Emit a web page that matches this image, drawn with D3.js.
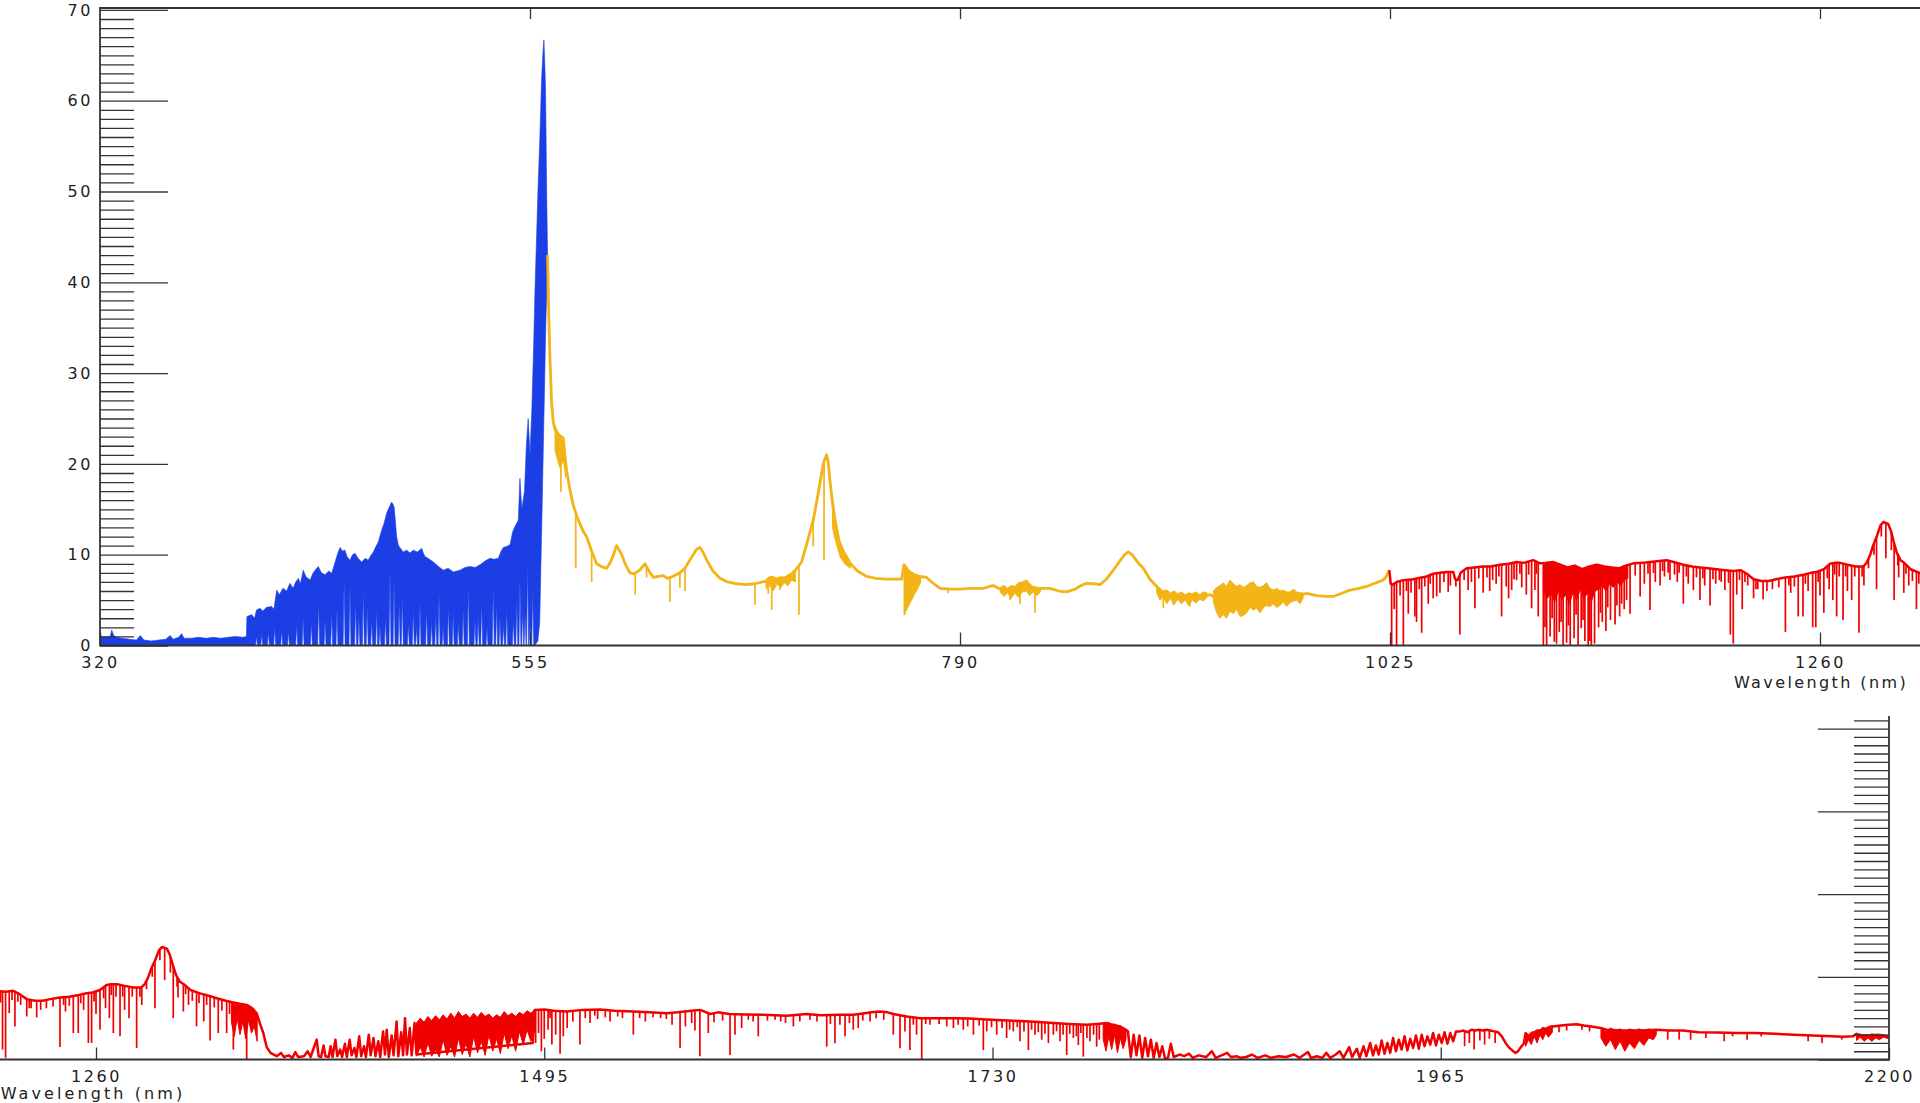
<!DOCTYPE html>
<html><head><meta charset="utf-8">
<script src="https://cdn.jsdelivr.net/npm/d3@7"></script>
<style>
html,body{margin:0;padding:0;background:#fff;}
svg{display:block;}
text{font-family:"DejaVu Sans",sans-serif;font-size:16px;fill:#222;}
</style></head><body>
<svg id="c" width="1920" height="1103"></svg>
<script>
// ---------------- DATA ----------------
const topXTicks = [320,555,790,1025,1260];
const botXTicks = [1260,1495,1730,1965,2200];
const topYTicks = [0,10,20,30,40,50,60,70];
const botYTicks = [0,10,20,30,40];
const axisTitle = "Wavelength (nm)";

const blueUpper = [[320,1.1],[322,0.9],[324,1.0],[325.5,0.9],[326.4,1.7],[327.5,1.1],[329,0.9],[332,0.8],[336,0.7],[340,0.6],[342,1.1],[344,0.6],[348,0.5],[352,0.6],[356,0.7],[358.3,1.1],[360,0.7],[363,0.9],[364.6,1.3],[366,0.8],[370,0.8],[374,0.9],[378,0.8],[382,0.9],[386,0.8],[390,0.9],[394,1.0],[398,0.9],[400,1.0],[400.3,3.2],[402.9,3.4],[404.5,3.0],[405.5,3.9],[407.4,4.1],[409,3.8],[411,4.2],[413.8,4.3],[415,4.0],[416.6,6.1],[418,5.6],[420,6.3],[422,6.0],[423.8,6.85],[425.5,6.3],[427,7.0],[428.4,7.4],[429.5,6.8],[431.1,8.3],[432.5,7.6],[434.8,7.2],[436.5,8.0],[438,8.4],[439.3,8.7],[441,8.0],[443,7.8],[445,8.2],[446.6,7.95],[448.5,9.2],[450,10.2],[451.2,10.8],[452.5,10.4],[453.9,10.5],[455,9.8],[456.6,9.4],[458,10.0],[459.4,10.15],[461,9.6],[463,9.2],[465,9.6],[466.6,9.4],[468,9.9],[469.4,10.3],[470.8,10.9],[472.1,11.4],[473.9,12.7],[475.3,13.5],[476.7,14.6],[478,15.2],[479.4,15.8],[480.7,15.3],[481.4,13.8],[482.1,12.0],[483.1,11.0],[483.9,10.8],[485.7,10.3],[487.6,10.5],[489.4,10.2],[491.2,10.5],[493.5,10.3],[495.8,10.7],[496.7,10.2],[497.6,9.8],[500,9.5],[502.2,9.2],[505,8.7],[507.6,8.3],[510.3,8.5],[513.1,8.1],[516.7,8.3],[519.5,8.6],[522.2,8.7],[525,8.6],[527.7,8.9],[530.4,9.3],[533.1,9.6],[535.4,9.5],[537.7,9.6],[539,10.3],[540.4,10.8],[542.2,10.9],[544.1,11.1],[545.5,12.5],[546.8,13.1],[548.6,13.8],[549.5,18.4],[550.5,15.0],[552,17.0],[553,22.0],[554,25.0],[555,21.0],[556,26.0],[557,33.0],[557.7,39.0],[558.6,45.0],[559.4,50.4],[560.4,56.0],[561.3,62.2],[562,65.0],[562.6,66.7],[563.1,64.0],[563.5,61.2],[564.1,49.9],[564.6,43.0]];
const blueGaps = [[405.5,1.0],[408.4,1.2],[412,1.5],[415.5,2.0],[419.3,1.7],[423,1.5],[427.5,2.3],[431,3.0],[435.5,2.5],[439.5,4.8],[443,2.8],[446.6,3.6],[449.5,4.0],[453.4,7.2],[456.6,6.5],[459.7,4.7],[461.5,3.0],[463.9,6.1],[466,4.2],[468.5,2.8],[471.2,3.9],[473.0,2.1],[476,3.0],[478.5,8.3],[480.7,6.9],[483.5,4.6],[485.2,5.4],[488.5,2.4],[491.2,3.9],[493,2.0],[494.9,4.7],[498.5,3.9],[501.2,2.6],[503.5,3.4],[505.3,5.7],[507.5,2.0],[510.4,4.3],[513,3.5],[515.8,2.5],[518.5,4.0],[521.3,6.5],[524.9,2.8],[526.7,3.2],[528.6,4.7],[531.5,2.0],[534.9,6.5],[536.8,4.4],[538.6,3.1],[540.5,2.2],[542.3,3.9],[545.9,2.8],[547.8,5.0],[549.5,7.2],[551,4.0],[552.3,3.6],[553.7,9.0],[555.0,2.1],[556.5,6.0]];
const blueLowerTail = [[557.5,0],[559.3,0.5],[560.3,2.6],[561.3,12],[562.3,22],[563.5,34],[564.6,43]];

const orangeLine = [[564.6,43],[565.3,36],[565.9,31.7],[566.8,26.7],[567.8,24.5],[568.7,23.8],[570,23.2],[571.5,22.5],[573.2,22.8],[574,21],[575,19.3],[576.5,17.5],[578.7,15.4],[580.5,14.3],[582.3,13.4],[584,12.6],[586,11.95],[588.5,10.5],[591.4,9.0],[594,8.7],[596.9,8.5],[599,9.2],[601,10.2],[602.3,11.0],[603.5,10.6],[605.1,10.0],[607,9.0],[609.6,8.0],[612,7.9],[615,8.3],[617.8,9.0],[620,8.2],[622.4,7.5],[625,7.6],[627.8,7.7],[630,7.4],[633,7.6],[637,8.0],[640,8.6],[642,9.3],[644.2,10.0],[646,10.6],[647.9,10.8],[649.5,10.3],[651.6,9.4],[655,8.2],[658.8,7.4],[663,7.0],[668,6.8],[673,6.7],[678,6.8],[682,7.0],[685,7.1],[687.1,7.4],[690,7.3],[693,7.4],[695.4,7.5],[698,7.9],[700,8.3],[701.6,8.7],[703.4,9.2],[706,11.0],[709.8,13.8],[712,16.2],[714.4,19.0],[715.5,20.2],[717.1,21.0],[718,20.2],[718.9,18.2],[720.3,15.7],[721.7,13.5],[723,12.0],[724.4,10.9],[727,9.8],[729.9,9.05],[734,8.2],[739,7.6],[744,7.4],[749.9,7.3],[755,7.3],[758.1,7.3],[759.4,8.9],[762,8.2],[765,7.8],[768.1,7.6],[771.8,7.5],[775,6.9],[779.1,6.3],[785,6.2],[790,6.2],[796,6.3],[802.7,6.3],[806,6.5],[808.2,6.6],[811,6.3],[815.5,6.1],[819,6.2],[823,6.6],[826.4,7.0],[829,6.4],[833,6.3],[839.2,6.3],[844,6.0],[848.3,5.9],[853,6.2],[856,6.6],[859.2,6.85],[863,6.8],[866.5,6.7],[870,7.3],[873.8,8.3],[877,9.2],[880,10.0],[882,10.3],[884,10.0],[887,9.2],[890.2,8.5],[893.8,7.3],[897.5,6.5],[901.1,5.75],[903,5.4],[907,5.3],[912,5.2],[917,5.3],[921.2,5.3],[926.6,5.6],[928.5,5.4],[935,5.1],[945,5.2],[955,5.3],[965,5.4],[975,5.5],[979.5,5.75],[985,5.5],[990,5.4],[994,5.4],[998,5.7],[1003.1,6.1],[1008,6.3],[1012.3,6.5],[1016,6.8],[1021.3,7.2],[1023,7.6],[1024.6,8.3]];
const orangeDips = [[569.6,21.3],[571.9,16.9],[580,8.5],[588.7,7.0],[612.5,5.6],[618.7,7.5],[631.5,4.8],[636.9,6.4],[639.7,6.0],[678,4.5],[685.2,5.7],[687.1,3.9],[691.6,6.1],[702,3.4],[709.8,10.9],[715.7,9.4],[759.9,3.4],[783.6,5.75],[817.3,5.0],[822.8,4.6],[831,3.6],[901.1,4.1],[906.5,4.5],[915.6,4.3]];
const orangeBands = [
 [[568.7,21.5,24.2],[570,20.5,23.6],[571.5,19.5,23.2],[573.2,20.5,23.0],[574.5,18.5,21.0]],
 [[684,6.2,7.3],[686,6.6,7.6],[688,6.0,7.6],[690,6.8,7.4],[692,6.4,7.6],[694,6.9,7.5],[696,6.6,7.8],[698,7.2,8.0],[700,7.0,8.4]],
 [[720.3,13.0,16.5],[722,11.5,14.0],[724.4,9.8,11.5],[727,9.0,10.3],[730,8.5,9.3]],
 [[759.4,3.4,8.9],[761,4.0,8.4],[763,4.8,8.0],[765,5.6,7.8],[767,6.3,7.7],[768.5,7.0,7.6]],
 [[812,5.9,6.4],[814,5.4,6.6],[816,5.8,6.3],[818,5.2,6.6],[820,5.8,6.5],[822,5.3,6.9],[824,5.9,7.0],[826.4,6.0,7.2],[828,5.5,6.8],[830,5.9,6.5],[832,5.5,6.4],[834,5.9,6.3]],
 [[897.5,5.8,6.6],[899.3,5.0,6.3],[901,5.4,6.0],[903,4.6,6.1],[905,5.2,5.8],[907,4.5,6.0],[909,5.1,5.7],[911,4.6,5.9],[913,5.0,5.6],[915,4.4,5.8],[917,5.0,5.7],[919,4.7,5.9],[921,5.1,5.6],[923,4.9,5.9],[925,5.3,5.8]],
 [[928.5,4.8,6.0],[930.3,3.6,6.4],[932.1,3.0,6.6],[933.9,3.4,6.9],[935.7,3.0,6.5],[937.5,3.8,7.2],[939.4,3.5,6.8],[941.2,4.0,6.5],[943,3.2,6.7],[944.8,3.3,6.4],[946.7,3.6,6.6],[948.5,4.2,6.9],[950.3,3.9,7.0],[952.1,4.1,6.5],[954,3.6,6.4],[955.8,4.2,6.6],[957.6,4.4,6.9],[959.4,4.3,6.3],[961.2,4.6,6.1],[963,4.2,6.3],[964.9,4.4,6.0],[966.7,4.8,6.1],[968.5,4.3,5.9],[970.3,4.7,5.9],[972.2,4.9,6.2],[974,5.0,5.9],[975.8,4.6,5.8],[977.5,5.2,5.8]]
];

const redLine = [[1024.6,8.3],[1025.4,6.8],[1026.5,6.7],[1028.6,7.0],[1032.3,7.2],[1037.7,7.3],[1042.3,7.5],[1045,7.6],[1048.6,7.9],[1052.3,8.0],[1056,8.1],[1059.6,8.1],[1060.6,7.3],[1062,7.2],[1063.6,8.0],[1066.9,8.5],[1071,8.6],[1075.9,8.7],[1080,8.7],[1085.1,8.9],[1090,9.0],[1094.2,9.2],[1098,9.1],[1103.3,9.4],[1106.9,9.05],[1110,9.1],[1114,9.2],[1118,8.9],[1122,8.6],[1126,8.8],[1130,8.4],[1134,8.7],[1138,8.9],[1142,8.7],[1146,8.6],[1150,8.5],[1154,8.8],[1158,9.05],[1163,9.1],[1167.1,9.2],[1172,9.3],[1176.2,9.4],[1180,9.2],[1185.3,8.9],[1190,8.7],[1194.4,8.6],[1199,8.5],[1203.5,8.4],[1208,8.3],[1212.6,8.2],[1216.6,8.3],[1220,7.9],[1223.7,7.3],[1228,7.1],[1232,7.1],[1236,7.3],[1241,7.5],[1246,7.6],[1251,7.8],[1255,8.0],[1258.2,8.1],[1262.1,8.4],[1265.5,9.0],[1268,9.1],[1271,9.1],[1275,8.9],[1279.5,8.7],[1283.6,8.7],[1285.5,9.1],[1287.3,9.9],[1289,11.0],[1291,12.0],[1293,13.2],[1294.6,13.6],[1297.2,13.4],[1298.8,12.6],[1300.3,11.4],[1302,10.2],[1304,9.4],[1306,9.1],[1309.5,8.4],[1314.5,8.0],[1319,7.7],[1323.3,7.4],[1328,7.1],[1332,6.9],[1336,6.7],[1339,6.6],[1342,6.2],[1344.2,5.6],[1346,4.3],[1347.7,3.2],[1349.5,1.5],[1351.5,0.8],[1354.7,0.4],[1357,0.8],[1358.5,0.3],[1361,0.5],[1363,0.2],[1364.5,0.9],[1366,0.3],[1369,0.4],[1371,1.0],[1372.5,0.3],[1375.7,2.4],[1376.7,0.4],[1378,0.3],[1379.3,1.7],[1380.3,0.4],[1382,0.3],[1383,1.6],[1384,0.3],[1385.5,2.4],[1386.5,0.4],[1388,1.2],[1389,0.3],[1390.5,1.9],[1391.5,0.3],[1393,2.4],[1394,0.5],[1395.5,1.4],[1396.5,0.3],[1398,2.8],[1399,0.4],[1400.5,1.6],[1401.5,0.3],[1403,3.0],[1404,0.5],[1405.5,2.6],[1406.5,0.4],[1408,2.2],[1409,0.3],[1410.5,3.4],[1411.5,0.6],[1412.4,3.6],[1413.5,0.3],[1415,2.9],[1416,0.5],[1417.6,4.6],[1418.5,0.4],[1420,3.3],[1421,0.5],[1422,5.0],[1423,0.6],[1424.5,3.8],[1425.5,0.5],[1427,4.4],[1428,0.6],[1489,2.0],[1490,6.0],[1495,6.05],[1500,5.9],[1506.8,5.8],[1515,6.0],[1524.2,6.05],[1532,5.9],[1541.7,5.8],[1550,5.7],[1559.2,5.6],[1565,5.7],[1572,5.9],[1576.6,6.0],[1579,5.8],[1582,5.5],[1586,5.7],[1592,5.5],[1600,5.45],[1610,5.4],[1622,5.3],[1632.6,5.5],[1640,5.35],[1650,5.4],[1657,5.4],[1663,5.6],[1667.5,5.75],[1671,5.8],[1675,5.7],[1678,5.5],[1685,5.2],[1692,5.0],[1700,5.0],[1709.5,5.0],[1718,4.95],[1726.9,4.85],[1735,4.75],[1744.4,4.65],[1752,4.55],[1761.9,4.4],[1770,4.3],[1779.4,4.2],[1785,4.3],[1789.8,4.4],[1796.8,4.0],[1800,3.6],[1801,3.4],[1802.5,0.3],[1804,3.0],[1805.5,0.5],[1807,2.9],[1808.5,0.2],[1810,2.6],[1811.5,0.4],[1813,2.4],[1814.5,0.2],[1816,2.0],[1817.5,0.3],[1819,1.6],[1820.5,0.1],[1822,0.2],[1823.5,1.9],[1825,0.3],[1828,0.6],[1830.5,0.4],[1833,0.7],[1835,0.2],[1838,0.5],[1842,0.3],[1845,1.0],[1847,0.2],[1851,0.6],[1853,0.8],[1855,0.3],[1858,0.4],[1860,0.2],[1863,0.3],[1866,0.6],[1869,0.2],[1873,0.5],[1876,0.2],[1880,0.4],[1884,0.3],[1888,0.6],[1891,0.2],[1895.4,0.9],[1897,0.2],[1900,0.4],[1903,0.2],[1905,0.8],[1907,0.2],[1910,0.6],[1912,1.0],[1914,0.2],[1917,1.5],[1918.5,0.3],[1921,1.3],[1922.5,0.2],[1924.5,1.6],[1926,0.4],[1928,2.0],[1929.5,0.5],[1931,1.7],[1932.5,0.6],[1934,2.3],[1935.5,0.7],[1937,2.0],[1938.5,0.8],[1940,2.6],[1941.5,1.0],[1943,2.4],[1944.5,1.2],[1946,2.8],[1947.5,1.1],[1949,2.5],[1950.5,1.4],[1952,2.9],[1953.5,1.3],[1955,3.0],[1956.5,1.6],[1958,2.8],[1959.5,1.8],[1961,3.2],[1962.5,1.7],[1964,3.0],[1965.5,2.0],[1967,3.3],[1968.5,1.9],[1970,3.2],[1971.5,2.2],[1973,3.4],[1975,3.4],[1977,3.5],[1979,3.3],[1981,3.6],[1983,3.5],[1985,3.6],[1987,3.5],[1989,3.6],[1991,3.5],[1993,3.4],[1995,3.3],[1997,2.8],[1999,2.0],[2001,1.4],[2003,1.0],[2004.2,0.8],[2005.5,1.0],[2007,1.5],[2008.5,1.9],[2009.5,3.2],[2012,2.6],[2016,3.0],[2020,3.5],[2024,4.0],[2028,4.1],[2032,4.2],[2036.3,4.25],[2040,4.1],[2044,4.0],[2048.8,3.8],[2052,3.6],[2060,3.5],[2070,3.5],[2078,3.6],[2085,3.5],[2092,3.5],[2100,3.3],[2110,3.25],[2120,3.2],[2130,3.2],[2140,3.1],[2150,3.0],[2160,2.9],[2170,2.8],[2176,2.75],[2181,2.8],[2183,3.1],[2186,2.9],[2190,2.9],[2194,3.0],[2197,2.9],[2200,2.8]];
const redDips = [[1025.9,0],[1027.3,4.0],[1028.6,0],[1030.5,5.5],[1032.3,0],[1034,6.0],[1035,3.5],[1036.5,5.8],[1038.6,3.2],[1039.5,2.6],[1041,6.2],[1042.3,1.4],[1044,6.5],[1045.9,4.6],[1047,6.8],[1048.6,5.2],[1050.5,5.4],[1052.3,5.8],[1054.5,7.0],[1056.8,5.9],[1058,6.6],[1061,6.5],[1063.2,1.2],[1065.5,7.2],[1067.7,6.1],[1069.5,7.0],[1071.4,4.1],[1073.5,7.4],[1075.9,5.8],[1078,7.5],[1079.5,6.0],[1081.1,7.2],[1083,6.8],[1084.5,7.6],[1086,3.2],[1088.5,6.5],[1089.8,5.2],[1091.5,6.1],[1092.8,7.3],[1094.2,7.2],[1096,7.9],[1097,6.4],[1099.5,5.6],[1100.8,7.8],[1102.4,4.1],[1104.2,6.1],[1105,7.9],[1106,3.2],[1108.8,0],[1109.7,2.0],[1110.6,0],[1112.5,1.0],[1113.6,3.0],[1114.8,0.4],[1116,0.2],[1117.5,1.5],[1118.5,2.6],[1119.6,0],[1121.5,0.3],[1122.5,2.2],[1123.5,0],[1125.6,0.8],[1126.7,3.4],[1127.8,0],[1129.5,1.9],[1130.5,2.8],[1131.5,0.5],[1133.3,0],[1134.2,0.5],[1135,0],[1136.8,0.2],[1139,2.0],[1140,3.6],[1141,2.6],[1143,1.6],[1144,4.2],[1145.5,2.8],[1148,2.3],[1149,4.4],[1150.5,3.2],[1151.6,4.6],[1153,4.0],[1154.3,5.0],[1156.2,3.5],[1159,7.7],[1161.7,5.4],[1164,6.8],[1166,7.9],[1167.1,3.9],[1169,8.0],[1170,7.0],[1172.6,6.6],[1174,8.2],[1175,7.6],[1177,8.0],[1178,7.2],[1180.5,7.8],[1182,7.0],[1183,8.0],[1185.3,4.6],[1187,7.6],[1188,6.8],[1190.8,6.1],[1192.5,7.5],[1194.4,5.0],[1196,7.4],[1197,6.6],[1199.9,4.4],[1201.5,7.3],[1203,6.8],[1205,7.2],[1206,7.0],[1208,6.1],[1210,6.9],[1211,1.2],[1212.6,0.2],[1214.5,5.6],[1216,7.2],[1217.5,4.0],[1219,7.0],[1220.5,6.6],[1223.7,5.2],[1225,6.2],[1226,6.2],[1228.9,5.1],[1231,6.0],[1234,6.2],[1237.5,6.4],[1241.1,1.5],[1243,6.6],[1244,5.8],[1246,6.5],[1248.1,3.2],[1250.7,3.2],[1252,6.8],[1253.5,6.0],[1256,2.0],[1257.7,2.0],[1259,7.0],[1260,5.5],[1262.1,3.6],[1264,7.4],[1265,6.2],[1267,5.0],[1268,7.8],[1269.1,3.2],[1270.5,7.6],[1272.6,2.8],[1274,7.6],[1275,6.0],[1277.3,5.0],[1279,7.6],[1281.3,1.4],[1283,7.6],[1284,6.6],[1286.5,8.5],[1289.5,10.0],[1290.9,6.2],[1293.5,12.0],[1296,9.6],[1299,10.5],[1300.5,5.0],[1302.5,8.8],[1303,7.5],[1305.8,5.8],[1307,7.9],[1308.5,6.6],[1310.5,7.1],[1312.7,4.0],[1314,6.8],[1316.5,4.6],[1318,6.6],[1319.8,2.3],[1322,6.3],[1324.1,3.2],[1326,5.9],[1328.5,3.2],[1330,5.5],[1332,1.2],[1339,0.05],[1490.5,2.0],[1492,3.2],[1493.5,1.0],[1495,2.5],[1497,3.6],[1498,5.0],[1499,1.8],[1501,3.0],[1503.3,0.7],[1505,2.8],[1507,3.8],[1510,4.6],[1513.7,1.8],[1516.5,5.0],[1519,4.4],[1521.5,5.3],[1523,4.9],[1527,5.1],[1529.5,4.6],[1533.5,5.2],[1536,5.0],[1541.7,3.0],[1545,5.0],[1548,4.6],[1552,5.1],[1556,5.0],[1559,4.9],[1562,4.2],[1566.2,1.4],[1569,4.0],[1572.3,4.4],[1574,3.5],[1576.6,0.4],[1581,3.2],[1584,4.5],[1588.5,4.7],[1592.4,0.55],[1595,3.0],[1598.5,3.8],[1602,4.8],[1604.5,4.6],[1607.2,2.8],[1612,4.7],[1616,4.8],[1619,4.6],[1621.5,4.4],[1625.6,4.0],[1629,4.6],[1634.3,4.8],[1638,4.6],[1643.1,1.55],[1645,4.3],[1647.4,1.96],[1650,4.2],[1652.7,2.8],[1655,4.4],[1657,3.6],[1659.6,3.8],[1662,4.7],[1665.8,4.6],[1669,5.0],[1673,4.8],[1678,3.0],[1681.5,1.35],[1684.1,3.4],[1686.7,1.15],[1688.5,4.2],[1690.2,3.0],[1692.9,0.0],[1695,4.3],[1697.2,4.2],[1702,4.3],[1706,4.0],[1709.5,3.8],[1712,4.2],[1714.7,3.6],[1717,4.0],[1720,3.0],[1723,4.1],[1725.2,1.15],[1727,3.4],[1729.5,3.9],[1732.2,3.0],[1735,3.8],[1737.4,2.6],[1739,3.6],[1740.9,3.4],[1743,3.9],[1744.4,2.2],[1746.5,3.4],[1748.8,1.15],[1750.5,3.6],[1752.3,3.0],[1754,3.3],[1755.8,2.4],[1757.5,3.1],[1759.3,2.0],[1761.9,3.0],[1763.6,3.4],[1765.4,2.2],[1767,3.0],[1768.9,0.55],[1770.5,3.1],[1772.4,2.6],[1774,2.8],[1775,1.75],[1776.3,3.2],[1777.6,0.34],[1779.5,2.6],[1781.1,2.2],[1783,3.0],[1784.6,1.55],[1786,2.4],[1977.5,1.6],[1980,2.0],[1982.5,1.2],[1985.5,2.3],[1988,1.8],[1990.5,2.5],[1993.5,2.0],[2027,3.3],[2031,3.5],[2039,3.6],[2043,3.4],[2084,2.4],[2090,2.4],[2096,2.4],[2104,2.6],[2113.6,2.2],[2118,2.8],[2125.6,2.4],[2133,2.8],[2157.6,2.2],[2164.9,2.0],[2175.2,2.4]];
const redBands = [
 [[1108.8,6.0,9.0],[1111,5.2,9.2],[1113,5.8,9.0],[1115,4.8,9.1],[1117,6.0,8.9],[1119,5.0,8.8],[1121,5.6,8.6],[1123,4.6,8.7],[1125,5.8,8.8],[1127,5.0,8.7],[1129,6.2,8.5],[1131,5.2,8.4],[1133,5.8,8.6],[1135,4.8,8.7],[1137,6.0,8.8],[1139,6.2,8.9],[1141,6.6,8.8],[1143,6.0,8.7],[1145,6.8,8.6],[1147,6.4,8.5],[1149,7.0,8.5],[1151,6.6,8.6],[1153,7.2,8.8],[1155,7.4,8.9]],
 [[1331,4.5,6.9],[1332.5,2.8,6.6],[1334,5.0,6.8],[1335.5,3.0,6.5],[1337,4.6,6.7],[1338.5,2.5,6.4],[1340,4.8,6.5],[1341.5,3.2,6.2],[1343,4.0,6.0],[1344.5,2.2,5.4]],
 [[1428,0.4,4.4],[1430,1.5,5.0],[1432,0.3,4.5],[1434,2.0,5.2],[1436,0.4,4.7],[1438,1.2,5.3],[1440,0.3,4.8],[1442,2.4,5.4],[1444,0.5,4.9],[1446,1.6,5.6],[1448,0.3,5.0],[1450,2.6,5.8],[1452,0.6,5.2],[1454,1.9,5.5],[1456,0.3,5.0],[1458,2.8,5.6],[1460,0.8,5.1],[1462,2.2,5.7],[1464,0.5,5.2],[1466,3.0,5.5],[1468,1.0,5.0],[1470,2.5,5.4],[1472,0.7,5.1],[1474,3.2,5.8],[1476,1.3,5.3],[1478,2.9,5.6],[1480,1.0,5.2],[1482,3.4,5.7],[1484,1.8,5.4],[1486,3.6,5.9],[1488,2.2,5.6],[1490,3.5,6.0]],
 [[1788,2.5,4.4],[1789.5,1.0,4.2],[1791,2.8,4.5],[1792.5,1.2,4.1],[1794,3.0,4.3],[1795.5,0.8,4.0],[1797,2.6,4.1],[1798.5,1.3,3.8],[1800,2.5,3.6]],
 [[2009.5,1.6,3.2],[2011,2.4,3.0],[2012.5,1.8,3.3],[2014,2.8,3.4],[2015.5,2.0,3.6],[2017,3.0,3.6],[2018.5,2.4,3.9],[2020,3.2,3.8],[2021.5,2.7,4.0],[2023.5,3.3,4.1]],
 [[2049,2.6,3.8],[2051.5,1.6,3.4],[2054,2.4,3.8],[2056.5,1.2,3.5],[2059,2.2,3.7],[2061.5,1.0,3.4],[2064,2.0,3.7],[2066.5,1.3,3.5],[2069,2.3,3.7],[2071.5,1.7,3.5],[2074,2.6,3.7],[2076.5,2.4,3.5],[2078,3.0,3.6]],
 [[2183,2.3,3.1],[2185,2.7,3.0],[2187,2.2,3.0],[2189,2.6,2.9],[2191,2.2,3.1],[2193,2.6,3.0],[2195,2.4,3.0],[2197,2.7,2.9],[2200,2.5,2.9]]
];

// ---------------- STYLE ----------------
const BLUE = "#1b3fe4", ORANGE = "#f2b416", RED = "#f00000", AXIS = "#333";

// ---------------- SCALES ----------------
const svg = d3.select("#c");
const xTop = d3.scaleLinear().domain([320,1260]).range([100,1820]);
const yTop = d3.scaleLinear().domain([0,70]).range([645.5,9.9]);
const xBot = d3.scaleLinear().domain([1260,2200]).range([96,1889]);
const yBot = d3.scaleLinear().domain([0,40]).range([1059.5,728.7]);

const defs = svg.append("defs");
defs.append("clipPath").attr("id","clipTop").append("rect").attr("x",100).attr("y",0).attr("width",1820).attr("height",647);
defs.append("clipPath").attr("id","clipBot").append("rect").attr("x",0).attr("y",700).attr("width",1889).attr("height",361);

const gTop = svg.append("g").attr("clip-path","url(#clipTop)");
const gBot = svg.append("g").attr("clip-path","url(#clipBot)");

const byWl = (a,b)=>a[0]-b[0];

function drawSeries(g, x, y, line, dips, bands, color, lw){
  const area = d3.area().x(d=>x(d[0])).y0(d=>y(d[1])).y1(d=>y(d[2]));
  bands.forEach(b=>{
    g.append("path").attr("d", area(b)).attr("fill", color).attr("stroke", color).attr("stroke-width", 1).attr("stroke-linejoin","round");
  });
  const lv = d3.scaleLinear().domain(line.map(d=>d[0])).range(line.map(d=>d[1]));
  g.append("g").selectAll("line").data(dips.slice().sort(byWl)).join("line")
    .attr("x1", d=>x(d[0])).attr("x2", d=>x(d[0]))
    .attr("y1", d=>y(lv(d[0]))).attr("y2", d=>y(d[1]))
    .attr("stroke", color).attr("stroke-width", 1.7);
  g.append("path").attr("d", d3.line().x(d=>x(d[0])).y(d=>y(d[1]))(line))
    .attr("fill","none").attr("stroke", color).attr("stroke-width", lw).attr("stroke-linejoin","round");
}

// blue band polygon (upper envelope + lower edge with gaps)
const blueLower = [[320,0]];
blueGaps.slice().sort(byWl).forEach(([w,h])=>{ blueLower.push([w-0.55,0],[w,h],[w+0.55,0]); });
blueLowerTail.forEach(p=>blueLower.push(p));
const bluePoly = blueUpper.concat(blueLower.slice().reverse());
gTop.append("path").attr("d", d3.line().x(d=>xTop(d[0])).y(d=>yTop(d[1]))(bluePoly)+"Z")
  .attr("fill", BLUE).attr("stroke", BLUE).attr("stroke-width", 0.6).attr("stroke-linejoin","round");

drawSeries(gTop, xTop, yTop, orangeLine, orangeDips, orangeBands, ORANGE, 2.8);
drawSeries(gTop, xTop, yTop, redLine, redDips, redBands, RED, 2.5);
drawSeries(gBot, xBot, yBot, redLine, redDips, redBands, RED, 2.5);

// ---------------- AXES ----------------
function styleAxis(g){
  g.select(".domain").remove();
  g.selectAll(".tick line").attr("stroke", AXIS).attr("stroke-width", 1.3);
  g.selectAll(".tick text").attr("fill","#222").attr("font-family","DejaVu Sans, sans-serif")
    .attr("font-size",16).style("letter-spacing","2.6px");
}
const minorTop = d3.range(0,71).filter(v=>v%10!==0);
svg.append("g").attr("transform","translate(100,0)")
  .call(d3.axisLeft(yTop).tickValues(minorTop).tickSize(-34).tickFormat(""))
  .call(styleAxis);
svg.append("g").attr("transform","translate(100,0)")
  .call(d3.axisLeft(yTop).tickValues(topYTicks).tickSize(-68).tickPadding(7).tickFormat(d3.format("d")))
  .call(styleAxis);
svg.append("g").attr("transform","translate(0,645.5)")
  .call(d3.axisBottom(xTop).tickValues(topXTicks).tickSize(-13).tickPadding(11).tickFormat(d3.format("d")))
  .call(styleAxis);
svg.append("g").attr("transform","translate(0,8)")
  .call(d3.axisTop(xTop).tickValues(topXTicks.slice(1)).tickSize(-11).tickFormat(""))
  .call(styleAxis);
svg.append("line").attr("x1",100).attr("x2",100).attr("y1",7).attr("y2",646.2).attr("stroke",AXIS).attr("stroke-width",1.8);
svg.append("line").attr("x1",100).attr("x2",1920).attr("y1",8).attr("y2",8).attr("stroke",AXIS).attr("stroke-width",1.8);
svg.append("line").attr("x1",100).attr("x2",1920).attr("y1",645.5).attr("y2",645.5).attr("stroke",AXIS).attr("stroke-width",1.8);
svg.append("text").attr("x",xTop(1260)+1).attr("y",688).attr("text-anchor","middle")
  .style("letter-spacing","2.4px").text(axisTitle);

const minorBot = d3.range(0,42).filter(v=>v%10!==0);
svg.append("g").attr("transform","translate(1889,0)")
  .call(d3.axisRight(yBot).tickValues(minorBot).tickSize(-35).tickFormat(""))
  .call(styleAxis);
svg.append("g").attr("transform","translate(1889,0)")
  .call(d3.axisRight(yBot).tickValues(botYTicks).tickSize(-71).tickFormat(""))
  .call(styleAxis);
svg.append("g").attr("transform","translate(0,1059.5)")
  .call(d3.axisBottom(xBot).tickValues(botXTicks).tickSize(-12).tickPadding(11).tickFormat(d3.format("d")))
  .call(styleAxis);
svg.append("line").attr("x1",0).attr("x2",1889.9).attr("y1",1059.5).attr("y2",1059.5).attr("stroke",AXIS).attr("stroke-width",1.8);
svg.append("line").attr("x1",1889).attr("x2",1889).attr("y1",716).attr("y2",1060.3).attr("stroke",AXIS).attr("stroke-width",1.8);
svg.append("text").attr("x",xBot(1260)-3).attr("y",1099).attr("text-anchor","middle")
  .style("letter-spacing","3.1px").text(axisTitle);
</script>
</body></html>
